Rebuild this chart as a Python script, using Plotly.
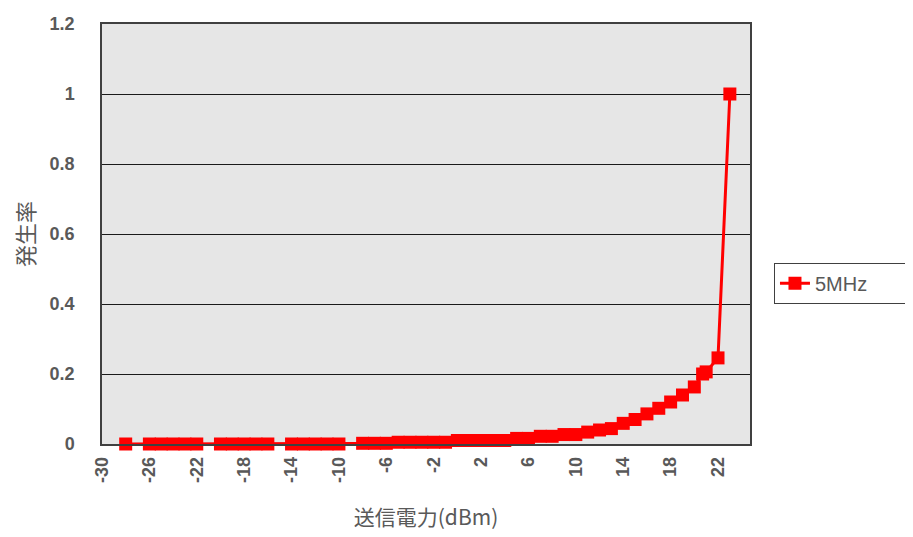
import plotly.graph_objects as go

# Data
power_dbm = [-28, -26, -25, -24, -23, -22, -20, -19, -18, -17, -16,
             -14, -13, -12, -11, -10, -8, -7, -6, -5, -4, -3, -2, -1,
             0, 1, 2, 3, 4, 5, 6, 7, 8, 9, 10, 11, 12, 13, 14, 15,
             16, 17, 18, 19, 20, 20.7, 21, 22, 23]
rate_5mhz = [0, 0, 0, 0, 0, 0, 0, 0, 0, 0, 0,
             0, 0, 0, 0, 0, 0.002, 0.002, 0.002, 0.005, 0.005, 0.005, 0.005, 0.005,
             0.01, 0.01, 0.01, 0.01, 0.01, 0.016, 0.016, 0.022, 0.022, 0.027, 0.027,
             0.034, 0.040, 0.044, 0.059, 0.070,
             0.086, 0.102, 0.120, 0.140, 0.163, 0.200, 0.206, 0.246, 1.0]
series_name = "5MHz"
x_tick_vals = list(range(-30, 23, 4))
x_tick_text = [str(v) for v in x_tick_vals]
y_tick_vals = [0, 0.2, 0.4, 0.6, 0.8, 1, 1.2]
y_tick_text = ["0", "0.2", "0.4", "0.6", "0.8", "1", "1.2"]
x_title = "送信電力(dBm)"
y_title = "発生率"

fig = go.Figure()
fig.add_trace(go.Scatter(
    x=power_dbm, y=rate_5mhz, name=series_name, mode="lines+markers",
    line=dict(color="#ff0000", width=3),
    marker=dict(symbol="square", size=13, color="#ff0000"),
    cliponaxis=False,
))

gray = "#595959"
fig.update_layout(
    width=913, height=537,
    margin=dict(l=94, r=171, t=16, b=101, autoexpand=False),
    paper_bgcolor="white",
    plot_bgcolor="#e6e6e6",
    showlegend=True,
    legend=dict(
        orientation="h",
        x=1.037, y=0.383, xanchor="left", yanchor="middle",
        bordercolor="#404040", borderwidth=1, bgcolor="white",
        entrywidth=126, entrywidthmode="pixels",
        font=dict(family="Liberation Sans", size=20, color=gray),
    ),
    xaxis=dict(
        range=[-30, 24.7], tickvals=x_tick_vals, ticktext=x_tick_text, tickangle=-90,
        showgrid=False, zeroline=False,
        showline=True, linecolor="#404040", linewidth=1.5, mirror=True,
        ticks="", ticklabelstandoff=4,
        tickfont=dict(family="Liberation Sans", size=18, color=gray, weight="bold"),
        title=dict(text=x_title, standoff=28,
                   font=dict(family="Noto Sans CJK JP", size=21, color=gray)),
    ),
    yaxis=dict(
        range=[0, 1.2], tickvals=y_tick_vals, ticktext=y_tick_text,
        showgrid=True, gridcolor="#1a1a1a", gridwidth=1, zeroline=False,
        showline=True, linecolor="#404040", linewidth=1.5, mirror=True,
        ticks="", ticklabelstandoff=22,
        tickfont=dict(family="Liberation Sans", size=18, color=gray, weight="bold"),
        title=dict(text=y_title, standoff=19,
                   font=dict(family="Noto Sans CJK JP", size=22, color=gray)),
    ),
)

fig.write_html("out.html")
